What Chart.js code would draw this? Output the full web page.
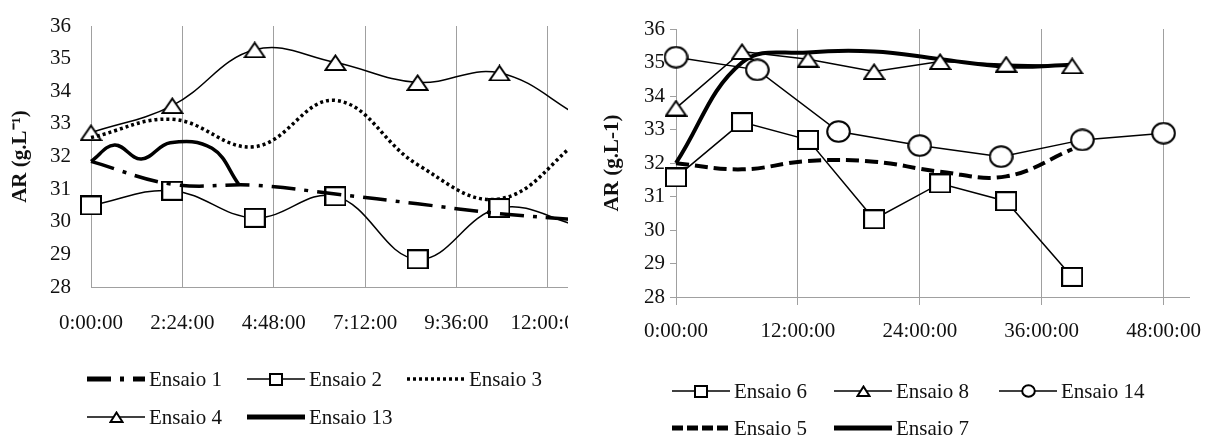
<!DOCTYPE html>
<html>
<head>
<meta charset="utf-8">
<script src="https://cdn.jsdelivr.net/npm/chart.js@4.4.1/dist/chart.umd.min.js"></script>
<style>
  html, body { margin: 0; padding: 0; background: #fff; }
  #wrap { position: relative; width: 1208px; height: 438px; overflow: hidden; }
  #leftbox { position: absolute; left: 0; top: 0; width: 568px; height: 438px; overflow: hidden; }
  #right { position: absolute; left: 600px; top: 0; }
</style>
</head>
<body>
<div id="wrap">
  <div id="leftbox"><canvas id="left" width="640" height="438"></canvas></div>
  <canvas id="right" width="608" height="438"></canvas>
</div>
<script>
// left chart (hours)
const timesA = [0, 2.135, 4.3, 6.42, 8.58, 10.73, 12.88];
const ensaio1 = [31.85, 31.15, 31.12, 30.85, 30.55, 30.25, 30.05];
const ensaio2 = [30.5, 30.95, 30.12, 30.78, 28.85, 30.42, 29.85];
const ensaio3 = [32.58, 33.14, 32.3, 33.72, 31.75, 30.7, 32.55];
const ensaio4 = [32.73, 33.56, 35.27, 34.88, 34.27, 34.56, 33.2];
const times13 = [0, 0.62, 1.32, 2.08, 3.18, 3.88];
const ensaio13 = [31.85, 32.35, 31.92, 32.42, 32.25, 31.15];

// right chart (hours)
const times8 = [0, 6.5, 13, 19.5, 26, 32.5, 39];
const ensaio6 = [31.57, 33.22, 32.69, 30.32, 31.39, 30.86, 28.6];
const ensaio8 = [33.64, 35.33, 35.1, 34.73, 35.03, 34.95, 34.9];
const times14 = [0, 8, 16, 24, 32, 40, 48];
const ensaio14 = [35.16, 34.78, 32.94, 32.52, 32.19, 32.69, 32.89];
const ensaio5 = [31.99, 31.81, 32.06, 32.04, 31.74, 31.6, 32.41];
const ensaio7 = [32.0, 35.0, 35.3, 35.33, 35.1, 34.88, 34.93];

const FONT = "'Liberation Serif', 'Times New Roman', serif";
const GRID = '#a0a0a0';
const INK = '#111';

Chart.defaults.font.family = FONT;
Chart.defaults.font.size = 21;
Chart.defaults.color = INK;

const toPoints = (xs, ys) => xs.map((x, i) => ({ x: x, y: ys[i] }));

const hms = v => {
  const m = Math.round(v * 60);
  return Math.floor(m / 60) + ':' + String(m % 60).padStart(2, '0') + ':00';
};

function marker(kind, w, h) {
  const c = document.createElement('canvas');
  c.width = w;
  c.height = h;
  const g = c.getContext('2d');
  g.lineWidth = 2;
  g.strokeStyle = '#000';
  g.fillStyle = '#fff';
  g.beginPath();
  if (kind === 'square') {
    g.rect(1, 1, w - 2, h - 2);
  } else if (kind === 'triangle') {
    g.moveTo(w / 2, 1.5);
    g.lineTo(w - 1.5, h - 1);
    g.lineTo(1.5, h - 1);
    g.closePath();
  } else {
    g.ellipse(w / 2, h / 2, w / 2 - 1.2, h / 2 - 1.2, 0, 0, Math.PI * 2);
  }
  g.fill();
  g.stroke();
  return c;
}

const sq = marker('square', 22, 20), sqL = marker('square', 14, 13);
const tri = marker('triangle', 23, 17), triL = marker('triangle', 15, 12);
const circ = marker('circle', 25, 23), circL = marker('circle', 15, 14);

// legend drawn as a grid like the spreadsheet one
const gridLegend = {
  id: 'gridLegend',
  afterDraw(chart, args, opts) {
    const ctx = chart.ctx;
    const x0 = chart.chartArea.left;
    ctx.save();
    ctx.font = '21px ' + FONT;
    ctx.textBaseline = 'middle';
    ctx.fillStyle = INK;
    chart.data.datasets.forEach((ds, i) => {
      const x = x0 + opts.cols[i % 3];
      const y = opts.rows[Math.floor(i / 3)];
      ctx.save();
      ctx.strokeStyle = '#000';
      ctx.lineWidth = ds.legendWidth || ds.borderWidth;
      ctx.setLineDash(ds.legendDash || ds.borderDash || []);
      ctx.beginPath();
      ctx.moveTo(x, y);
      ctx.lineTo(x + 58, y);
      ctx.stroke();
      ctx.restore();
      if (ds.legendMarker) {
        const img = ds.legendMarker;
        ctx.drawImage(img, Math.round(x + 29 - img.width / 2), Math.round(y - img.height / 2));
      }
      ctx.fillText(ds.label, x + 62, y + 1);
    });
    ctx.restore();
  }
};

const thin = { borderColor: '#000', borderWidth: 1.5, clip: false };

// left one is wider than its box: the figure is cut just past 12:00:00
new Chart(document.querySelector('#left'), {
  type: 'line',
  data: {
    datasets: [
      { ...thin, label: 'Ensaio 1', data: toPoints(timesA, ensaio1), borderWidth: 3.5,
        borderDash: [24, 9, 4, 9], legendWidth: 5, pointRadius: 0, tension: 0.4 },
      { ...thin, label: 'Ensaio 2', data: toPoints(timesA, ensaio2), pointStyle: sq,
        pointRadius: 10, legendMarker: sqL, tension: 0.4 },
      { ...thin, label: 'Ensaio 3', data: toPoints(timesA, ensaio3), borderWidth: 3.5,
        borderDash: [3, 3], pointRadius: 0, tension: 0.4 },
      { ...thin, label: 'Ensaio 4', data: toPoints(timesA, ensaio4), pointStyle: tri,
        pointRadius: 10, legendMarker: triL, tension: 0.4 },
      { ...thin, label: 'Ensaio 13', data: toPoints(times13, ensaio13), borderWidth: 3.5,
        legendWidth: 5, pointRadius: 0, tension: 0.4 }
    ]
  },
  options: {
    responsive: false,
    animation: false,
    events: [],
    layout: { padding: { left: 0, right: 72, top: 26, bottom: 101 } },
    scales: {
      x: {
        type: 'linear', min: 0, max: 12.53,
        ticks: { stepSize: 2.4, includeBounds: false, callback: hms, padding: 24, maxRotation: 0, autoSkip: false },
        grid: { color: GRID, drawTicks: false },
        border: { color: GRID },
        afterFit: s => { s.height = 50; }
      },
      y: {
        min: 28, max: 36,
        ticks: { stepSize: 1, padding: 12 },
        grid: { display: false },
        border: { color: GRID },
        title: { display: true, text: 'AR (g.L⁻¹)', font: { weight: 'bold', size: 21 }, padding: { top: 8, bottom: 0 } },
        afterFit: s => { s.width = 91; }
      }
    },
    plugins: {
      legend: { display: false },
      tooltip: { enabled: false },
      gridLegend: { cols: [-4, 156, 316], rows: [379, 417] }
    }
  },
  plugins: [gridLegend]
});

new Chart(document.querySelector('#right'), {
  type: 'line',
  data: {
    datasets: [
      { ...thin, label: 'Ensaio 6', data: toPoints(times8, ensaio6), pointStyle: sq,
        pointRadius: 10, legendMarker: sqL, tension: 0 },
      { ...thin, label: 'Ensaio 8', data: toPoints(times8, ensaio8), pointStyle: tri,
        pointRadius: 10, legendMarker: triL, tension: 0 },
      { ...thin, label: 'Ensaio 14', data: toPoints(times14, ensaio14), pointStyle: circ,
        pointRadius: 10, legendMarker: circL, tension: 0 },
      { ...thin, label: 'Ensaio 5', data: toPoints(times8, ensaio5), borderWidth: 4,
        borderDash: [13, 6], legendDash: [11, 4], legendWidth: 5, pointRadius: 0, tension: 0.4 },
      { ...thin, label: 'Ensaio 7', data: toPoints(times8, ensaio7), borderWidth: 4,
        legendWidth: 5, pointRadius: 0, tension: 0.4 }
    ]
  },
  options: {
    responsive: false,
    animation: false,
    events: [],
    layout: { padding: { left: 0, right: 19, top: 29, bottom: 91 } },
    scales: {
      x: {
        type: 'linear', min: 0, max: 50.5,
        ticks: { stepSize: 12, includeBounds: false, callback: hms, padding: 14, maxRotation: 0, autoSkip: false },
        grid: { color: GRID, tickLength: 8 },
        border: { color: GRID },
        afterFit: s => { s.height = 50; s.paddingLeft = 0; s.paddingRight = 0; }
      },
      y: {
        min: 28, max: 36,
        ticks: { stepSize: 1, padding: 5 },
        grid: { color: GRID, drawOnChartArea: false, tickLength: 6 },
        border: { color: GRID },
        title: { display: true, text: 'AR (g.L-1)', font: { weight: 'bold', size: 21 }, padding: { top: 0, bottom: 0 } },
        afterFit: s => { s.width = 76; }
      }
    },
    plugins: {
      legend: { display: false },
      tooltip: { enabled: false },
      gridLegend: { cols: [-4, 158, 323], rows: [391, 428] }
    }
  },
  plugins: [gridLegend]
});
</script>
</body>
</html>
